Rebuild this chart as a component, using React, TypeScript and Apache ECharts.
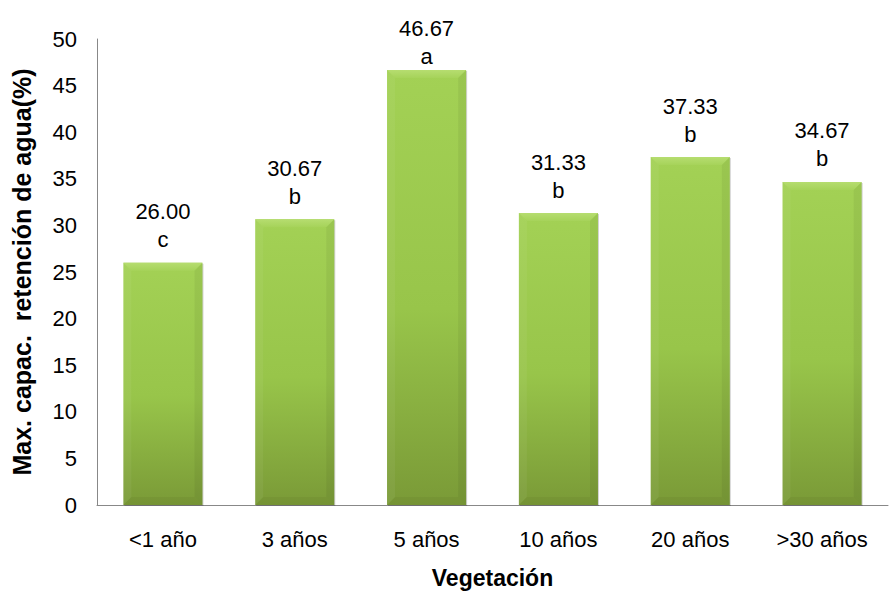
import React, { useEffect, useRef } from "react";
import * as echarts from "echarts";

const categories = ["<1 año", "3 años", "5 años", "10 años", "20 años", ">30 años"];
const values = [26.0, 30.67, 46.67, 31.33, 37.33, 34.67];
const letters = ["c", "b", "a", "b", "b", "b"];

export default function App() {
  const ref = useRef<HTMLDivElement>(null);
  useEffect(() => {
    if (!ref.current) return;
    const chart = echarts.init(ref.current, null, { renderer: "svg" });
    const font = "'Liberation Sans', Arial, sans-serif";
    const fs = 22;

    const renderItem = (params: any, api: any) => {
      const idx = api.value(0);
      const val = api.value(1);
      const topPt = api.coord([idx, val]);
      const basePt = api.coord([idx, 0]);
      const bw = api.size([1, 0])[0] * 0.6;
      const left = topPt[0] - bw / 2;
      const right = left + bw;
      const top = topPt[1];
      const bottom = basePt[1];
      const h = bottom - top;
      const b = 8;
      const cx = topPt[0];
      const letterBase = Math.max(top - 17, 62);
      const valueBase = letterBase - 28;
      return {
        type: "group",
        children: [
          {
            type: "rect",
            shape: { x: left + 1, y: top + 1, width: bw, height: h },
            style: { fill: "rgba(0,0,0,0.18)" },
          },
          {
            type: "rect",
            shape: { x: left, y: top, width: bw, height: h },
            style: {
              fill: new echarts.graphic.LinearGradient(0, 0, 0, 1, [
                { offset: 0, color: "#a3d155" },
                { offset: 0.55, color: "#98c54a" },
                { offset: 1, color: "#7a9a37" },
              ]),
            },
          },
          {
            type: "polygon",
            shape: { points: [[left, top], [right, top], [right - b, top + b], [left + b, top + b]] },
            style: {
              fill: new echarts.graphic.LinearGradient(0, 0, 0, 1, [
                { offset: 0, color: "#b6dd70" },
                { offset: 1, color: "#a6d35a" },
              ]),
            },
          },
          {
            type: "polygon",
            shape: { points: [[left, top], [left + b, top + b], [left + b, bottom - b], [left, bottom]] },
            style: { fill: "rgba(255,255,255,0.05)" },
          },
          {
            type: "polygon",
            shape: { points: [[right, top], [right - b, top + b], [right - b, bottom - b], [right, bottom]] },
            style: { fill: "rgba(0,0,0,0.05)" },
          },
          {
            type: "polygon",
            shape: { points: [[left, bottom], [left + b, bottom - b], [right - b, bottom - b], [right, bottom]] },
            style: { fill: "rgba(0,0,0,0.04)" },
          },
          {
            type: "text",
            style: {
              text: val.toFixed(2),
              x: cx,
              y: valueBase + 5,
              textAlign: "center",
              textVerticalAlign: "bottom",
              fontSize: fs,
              fontFamily: font,
              fill: "#000",
            },
          },
          {
            type: "text",
            style: {
              text: letters[idx],
              x: cx,
              y: letterBase + 5,
              textAlign: "center",
              textVerticalAlign: "bottom",
              fontSize: fs,
              fontFamily: font,
              fill: "#000",
            },
          },
        ],
      };
    };

    chart.setOption({
      animation: false,
      textStyle: { fontFamily: font },
      grid: { left: 97, right: 5, top: 39, bottom: 90 },
      xAxis: {
        type: "category",
        data: categories,
        name: "Vegetación",
        nameLocation: "middle",
        nameGap: 61,
        nameTextStyle: { fontSize: 23, fontWeight: "bold", color: "#000", fontFamily: font },
        axisLine: { lineStyle: { color: "#888", width: 1 } },
        axisTick: { show: false },
        axisLabel: { fontSize: fs, color: "#000", margin: 23, fontFamily: font },
      },
      yAxis: {
        type: "value",
        min: 0,
        max: 50,
        interval: 5,
        name: "Max. capac.  retención de agua(%)",
        nameLocation: "middle",
        nameGap: 63,
        nameTextStyle: { fontSize: 25, fontWeight: "bold", color: "#000", fontFamily: font },
        axisLine: { show: true, lineStyle: { color: "#888", width: 1 } },
        axisTick: { show: false },
        splitLine: { show: false },
        axisLabel: { fontSize: fs, color: "#000", margin: 20, fontFamily: font },
      },
      series: [
        {
          type: "custom",
          renderItem,
          data: values.map((v, i) => [i, v]),
          encode: { x: 0, y: 1 },
          clip: false,
        },
      ],
    });
    return () => chart.dispose();
  }, []);
  return <div ref={ref} style={{ width: 893, height: 595, position: "absolute", left: 0, top: 0, background: "#fff" }} />;
}
